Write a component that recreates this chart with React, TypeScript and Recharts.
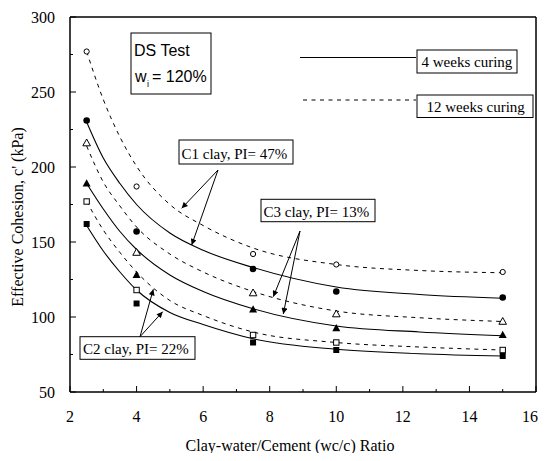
import React from 'react';
import { ComposedChart, Line, Scatter, XAxis, YAxis, ReferenceArea, ReferenceLine } from 'recharts';

// Fitted curves, sampled along the wc/c axis
const CURVE_X = [2.5, 3, 3.5, 4, 5, 6, 7.5, 10, 12.5, 15];
const C1_4WK_FIT = [230, 206, 189, 175, 156, 144.5, 133, 120, 115, 112.5];
const C1_12WK_FIT = [277, 245, 220, 200.5, 175, 161, 146, 135, 131, 129.5];
const C3_4WK_FIT = [189, 172, 157, 145, 128, 117, 105.5, 94, 90, 87.5];
const C3_12WK_FIT = [214, 190, 174, 160, 142, 130, 117, 104, 99.5, 97];
const C2_4WK_FIT = [161, 144, 130, 118, 103, 95, 85.5, 78.5, 75.5, 74];
const C2_12WK_FIT = [177, 158, 143, 130, 111, 101, 90, 83, 80, 78];

// Direct shear test results
const TEST_X = [2.5, 4, 7.5, 10, 15];
const C1_4WK = [231, 157, 132, 117, 113];
const C1_12WK = [277, 187, 142, 135, 130];
const C3_4WK = [189, 128, 105, 92.5, 88];
const C3_12WK = [216, 143, 116, 102, 97];
const C2_4WK = [162, 109, 83, 78, 74];
const C2_12WK = [177, 118, 88, 83, 78];

const X_TICKS = [2, 3, 4, 5, 6, 7, 8, 9, 10, 11, 12, 13, 14, 15, 16];
const Y_TICKS = [50, 75, 100, 125, 150, 175, 200, 225, 250, 275, 300];
const X_MAX = 16;

const SERIF = '"Liberation Serif", "Times New Roman", serif';
const SANS = '"Liberation Sans", Arial, sans-serif';

const W = 538;
const H = 445;

const curveRows = CURVE_X.map((x, i) => ({
  x,
  c1w4: C1_4WK_FIT[i],
  c1w12: C1_12WK_FIT[i],
  c3w4: C3_4WK_FIT[i],
  c3w12: C3_12WK_FIT[i],
  c2w4: C2_4WK_FIT[i],
  c2w12: C2_12WK_FIT[i],
}));

const pts = (vals: number[]) => TEST_X.map((x, i) => ({ x, y: vals[i] }));

const XTick = (props: any) => {
  const { x, y, payload } = props;
  const major = payload.value % 2 === 0;
  // keep the last label inside the drawing surface
  const last = payload.value === X_MAX;
  return (
    <g>
      <line x1={x} x2={x} y1={y} y2={y - (major ? 6 : 3)} stroke="#000" strokeWidth={1} />
      {major && (
        <text
          x={last ? x + 2 : x}
          y={y + 30}
          textAnchor={last ? 'end' : 'middle'}
          fontFamily={SERIF}
          fontSize={16}
          fill="#000"
        >
          {payload.value}
        </text>
      )}
    </g>
  );
};

const YTick = (props: any) => {
  const { x, y, payload } = props;
  const major = payload.value % 50 === 0;
  return (
    <g>
      <line x1={x} x2={x + (major ? 6 : 3)} y1={y} y2={y} stroke="#000" strokeWidth={1} />
      {major && (
        <text x={x - 15} y={y + 5.5} textAnchor="end" fontFamily={SERIF} fontSize={16} fill="#000">
          {payload.value}
        </text>
      )}
    </g>
  );
};

const OpenCircle = (p: any) => <circle cx={p.cx} cy={p.cy} r={2.6} fill="#fff" stroke="#000" strokeWidth={1} />;
const FilledCircle = (p: any) => <circle cx={p.cx} cy={p.cy} r={3.3} fill="#000" />;
const OpenTriangle = (p: any) => (
  <polygon
    points={`${p.cx},${p.cy - 4} ${p.cx - 3.8},${p.cy + 2.8} ${p.cx + 3.8},${p.cy + 2.8}`}
    fill="#fff"
    stroke="#000"
    strokeWidth={1}
  />
);
const FilledTriangle = (p: any) => (
  <polygon
    points={`${p.cx},${p.cy - 4.3} ${p.cx - 4},${p.cy + 3} ${p.cx + 4},${p.cy + 3}`}
    fill="#000"
  />
);
const OpenSquare = (p: any) => (
  <rect x={p.cx - 2.7} y={p.cy - 2.7} width={5.4} height={5.4} fill="#fff" stroke="#000" strokeWidth={1} />
);
const FilledSquare = (p: any) => <rect x={p.cx - 3} y={p.cy - 3} width={6} height={6} fill="#000" />;

const DASH = '4 4.5';

const Arrow = ({ x1, y1, x2, y2 }: { x1: number; y1: number; x2: number; y2: number }) => (
  <line x1={x1} y1={y1} x2={x2} y2={y2} stroke="#000" strokeWidth={1} markerEnd="url(#arrowHead)" />
);

const BoxLabel = ({ x, y, w, h, tx, ty, text }: any) => (
  <g>
    <rect x={x} y={y} width={w} height={h} fill="#fff" stroke="#000" strokeWidth={1} />
    <text x={tx} y={ty} fontFamily={SERIF} fontSize={15} fill="#000">
      {text}
    </text>
  </g>
);

export default function App() {
  return (
    <div style={{ position: 'relative', width: W, height: H }}>
      <ComposedChart
        width={W}
        height={H}
        data={curveRows}
        margin={{ top: 9, right: 10, bottom: 31, left: 0 }}
      >
        <XAxis
          type="number"
          dataKey="x"
          domain={[2, X_MAX]}
          ticks={X_TICKS}
          interval={0}
          allowDataOverflow
          height={30}
          tickLine={false}
          tickSize={0}
          tickMargin={0}
          tick={<XTick />}
          axisLine={{ stroke: '#000', strokeWidth: 1 }}
        />
        <YAxis
          type="number"
          dataKey="y"
          domain={[50, 300]}
          ticks={Y_TICKS}
          interval={0}
          allowDataOverflow
          width={62}
          tickLine={false}
          tickSize={0}
          tickMargin={0}
          tick={<YTick />}
          axisLine={{ stroke: '#000', strokeWidth: 1 }}
        />
        <ReferenceArea x1={2} x2={X_MAX} y1={50} y2={300} fill="none" stroke="#000" strokeWidth={1} ifOverflow="visible" />
        <ReferenceLine x={X_MAX} stroke="#000" strokeWidth={1} ifOverflow="visible" />
        <ReferenceLine y={300} stroke="#000" strokeWidth={1} ifOverflow="visible" />

        <Line type="monotone" dataKey="c1w12" stroke="#000" strokeWidth={1} strokeDasharray={DASH} dot={false} isAnimationActive={false} />
        <Line type="monotone" dataKey="c1w4" stroke="#000" strokeWidth={1.1} dot={false} isAnimationActive={false} />
        <Line type="monotone" dataKey="c3w12" stroke="#000" strokeWidth={1} strokeDasharray={DASH} dot={false} isAnimationActive={false} />
        <Line type="monotone" dataKey="c3w4" stroke="#000" strokeWidth={1.1} dot={false} isAnimationActive={false} />
        <Line type="monotone" dataKey="c2w12" stroke="#000" strokeWidth={1} strokeDasharray={DASH} dot={false} isAnimationActive={false} />
        <Line type="monotone" dataKey="c2w4" stroke="#000" strokeWidth={1.1} dot={false} isAnimationActive={false} />

        <Scatter data={pts(C1_12WK)} dataKey="y" shape={OpenCircle} isAnimationActive={false} />
        <Scatter data={pts(C1_4WK)} dataKey="y" shape={FilledCircle} isAnimationActive={false} />
        <Scatter data={pts(C3_12WK)} dataKey="y" shape={OpenTriangle} isAnimationActive={false} />
        <Scatter data={pts(C3_4WK)} dataKey="y" shape={FilledTriangle} isAnimationActive={false} />
        <Scatter data={pts(C2_12WK)} dataKey="y" shape={OpenSquare} isAnimationActive={false} />
        <Scatter data={pts(C2_4WK)} dataKey="y" shape={FilledSquare} isAnimationActive={false} />
      </ComposedChart>

      <svg
        width={W}
        height={H + 8}
        style={{ position: 'absolute', left: 0, top: 0, pointerEvents: 'none', overflow: 'visible' }}
      >
        <defs>
          <marker id="arrowHead" viewBox="0 0 10 10" refX="10" refY="5" markerWidth="7" markerHeight="6" orient="auto" markerUnits="userSpaceOnUse">
            <path d="M0,0 L10,5 L0,10 Z" fill="#000" />
          </marker>
        </defs>

        {/* axis titles */}
        <text x={282} y={443} textAnchor="middle" fontFamily={SERIF} fontSize={16} fill="#000">
          Clay-water/Cement (wc/c) Ratio
        </text>
        <text
          transform="translate(15,209) rotate(-90)"
          textAnchor="middle"
          fontFamily={SERIF}
          fontSize={16}
          fill="#000"
        >
          Effective Cohesion, c' (kPa)
        </text>

        {/* test description */}
        <rect x={123} y={25} width={80} height={61} fill="#fff" stroke="#000" strokeWidth={1} />
        <text x={126} y={48} fontFamily={SANS} fontSize={16} fill="#000">DS Test</text>
        <text x={127} y={74} fontFamily={SANS} fontSize={16} fill="#000">w</text>
        <text x={139} y={79} fontFamily={SANS} fontSize={9} fill="#000">i</text>
        <text x={144} y={74} fontFamily={SANS} fontSize={16} fill="#000">= 120%</text>

        {/* curing legend */}
        <line x1={292} y1={49.5} x2={408} y2={49.5} stroke="#000" strokeWidth={1} />
        <BoxLabel x={409} y={42} w={100} h={23} tx={413.5} ty={59} text="4 weeks curing" />
        <line x1={295} y1={92} x2={408} y2={92} stroke="#000" strokeWidth={1} strokeDasharray={DASH} />
        <BoxLabel x={409} y={87} w={116} h={22.5} tx={418.5} ty={104} text="12 weeks curing" />

        {/* clay labels with pointers */}
        <BoxLabel x={171} y={132} w={114} h={24} tx={173.5} ty={151} text="C1 clay, PI= 47%" />
        <Arrow x1={210} y1={162} x2={173.7} y2={200.3} />
        <Arrow x1={210} y1={162} x2={183.7} y2={237} />

        <BoxLabel x={253} y={191.3} w={114} h={22.4} tx={255.5} ty={208.7} text="C3 clay, PI= 13%" />
        <Arrow x1={292} y1={223} x2={265.3} y2={288.7} />
        <Arrow x1={292} y1={223} x2={275.3} y2={306} />

        <BoxLabel x={72} y={328.7} w={115} h={22.6} tx={75} ty={346} text="C2 clay, PI= 22%" />
        <Arrow x1={132} y1={328.7} x2={145.3} y2={281.3} />
        <Arrow x1={132} y1={328.7} x2={154.7} y2={303.7} />
      </svg>
    </div>
  );
}
